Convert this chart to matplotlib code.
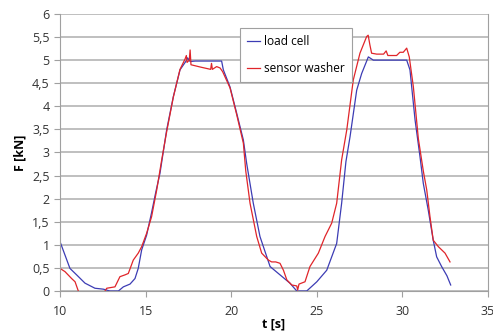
import numpy as np
import matplotlib.pyplot as plt

plt.rcParams['font.family'] = ['Open Sans', 'DejaVu Sans']

# load cell
t_load = [10.0, 10.29, 10.58, 10.97, 11.46, 12.04, 12.53, 12.92, 13.41, 13.7, 14.09, 14.38,
          14.57, 14.77, 15.06, 15.35, 15.6, 15.84, 16.23, 16.62, 17.01, 17.4, 17.45, 17.6,
          17.9, 19.44, 19.54, 19.93, 20.32, 20.71, 20.9, 21.29, 21.68, 22.27, 22.85, 23.43,
          23.83, 24.41, 25.0, 25.58, 26.16, 26.45, 26.7, 26.94, 27.33, 27.62, 28.01, 28.3,
          30.25, 30.44, 30.74, 31.03, 31.22, 31.51, 31.8, 32.0, 32.29, 32.6, 32.82]
f_load = [1.07, 0.78, 0.49, 0.35, 0.17, 0.06, 0.04, 0.0, 0.0, 0.09, 0.15, 0.27,
          0.49, 0.89, 1.21, 1.7, 2.15, 2.55, 3.49, 4.21, 4.79, 5.0, 5.05, 4.97,
          4.98, 4.98, 4.79, 4.42, 3.85, 3.27, 2.77, 1.9, 1.18, 0.53, 0.35, 0.17,
          0.0, 0.0, 0.2, 0.45, 1.03, 1.9, 2.8, 3.34, 4.35, 4.71, 5.07, 5.0,
          5.0, 4.79, 3.7, 2.9, 2.33, 1.75, 1.1, 0.74, 0.53, 0.33, 0.13]

# sensor washer
t_wash = [10.0, 10.29, 10.68, 10.88, 11.07, 11.3, 12.4, 12.63, 12.73, 13.21, 13.5, 13.8,
          13.99, 14.28, 14.57, 14.77, 15.06, 15.35, 15.65, 15.94, 16.23, 16.62, 17.01, 17.3,
          17.38, 17.42, 17.55, 17.6, 17.65, 18.2, 18.8, 18.85, 18.9, 19.15, 19.35, 19.5,
          19.93, 20.32, 20.71, 20.85, 21.1, 21.49, 21.78, 22.17, 22.36, 22.6, 22.85, 23.05,
          23.25, 23.54, 23.83, 23.88, 23.96, 24.31, 24.6, 25.09, 25.48, 25.87, 26.16, 26.45,
          26.75, 27.13, 27.52, 27.91, 28.0, 28.1, 28.2, 28.5, 28.9, 29.05, 29.15, 29.66,
          29.85, 30.05, 30.25, 30.4, 30.64, 30.93, 31.22, 31.42, 31.61, 31.8, 32.1, 32.49, 32.78]
f_wash = [0.49, 0.42, 0.27, 0.2, 0.0, -0.2, -0.2, 0.0, 0.06, 0.09, 0.31, 0.35,
          0.38, 0.67, 0.82, 0.96, 1.25, 1.61, 2.19, 2.84, 3.45, 4.2, 4.8, 5.02,
          5.1, 4.95, 5.0, 5.22, 4.9, 4.85, 4.8, 4.93, 4.8, 4.86, 4.83, 4.75,
          4.4, 3.82, 3.2, 2.6, 1.9, 1.18, 0.82, 0.67, 0.63, 0.63, 0.6, 0.45,
          0.24, 0.13, 0.11, 0.02, 0.15, 0.2, 0.53, 0.82, 1.18, 1.47, 1.9, 2.84,
          3.49, 4.57, 5.15, 5.51, 5.54, 5.33, 5.15, 5.13, 5.13, 5.2, 5.1, 5.1,
          5.17, 5.17, 5.26, 5.07, 4.42, 3.3, 2.6, 2.19, 1.61, 1.1, 0.96, 0.82, 0.63]

x_ticks = [10, 15, 20, 25, 30, 35]
y_ticks = [0, 0.5, 1, 1.5, 2, 2.5, 3, 3.5, 4, 4.5, 5, 5.5, 6]
y_labels = ['0', '0,5', '1', '1,5', '2', '2,5', '3', '3,5', '4', '4,5', '5', '5,5', '6']

fig = plt.figure(figsize=(4.93, 3.33), dpi=100)
ax = fig.add_axes([0.1217, 0.1261, 0.8682, 0.832])

ax.plot(t_load, f_load, color='#3c3cb4', lw=0.9, label='load cell')
ax.plot(t_wash, f_wash, color='#e0252a', lw=0.9, label='sensor washer')

ax.set_xlim(10, 35)
ax.set_ylim(0, 6)
ax.set_xticks(x_ticks)
ax.set_yticks(y_ticks)
ax.set_yticklabels(y_labels)
ax.grid(axis='y', color='#b4b4b4', lw=1.2)
ax.set_axisbelow(True)
for s in ['left', 'bottom', 'right']:
    ax.spines[s].set_color('#a0a0a0')
ax.spines['top'].set_visible(False)
ax.tick_params(colors='#a0a0a0', length=4, labelcolor='#333333', labelsize=9)
ax.tick_params(axis='x', pad=6)

ax.set_xlabel('t [s]', fontweight='bold', fontsize=9, labelpad=0)
ax.set_ylabel('F [kN]', fontweight='bold', fontsize=9, labelpad=4)

leg = ax.legend(loc='upper left', bbox_to_anchor=(0.42, 0.95), fancybox=False,
                edgecolor='#a0a0a0', fontsize=8.6, handlelength=1.1, handletextpad=0.3,
                labelspacing=1.2, borderpad=0.6, framealpha=1, borderaxespad=0)
leg.get_frame().set_linewidth(0.8)

fig.savefig('out.png', dpi=100)
